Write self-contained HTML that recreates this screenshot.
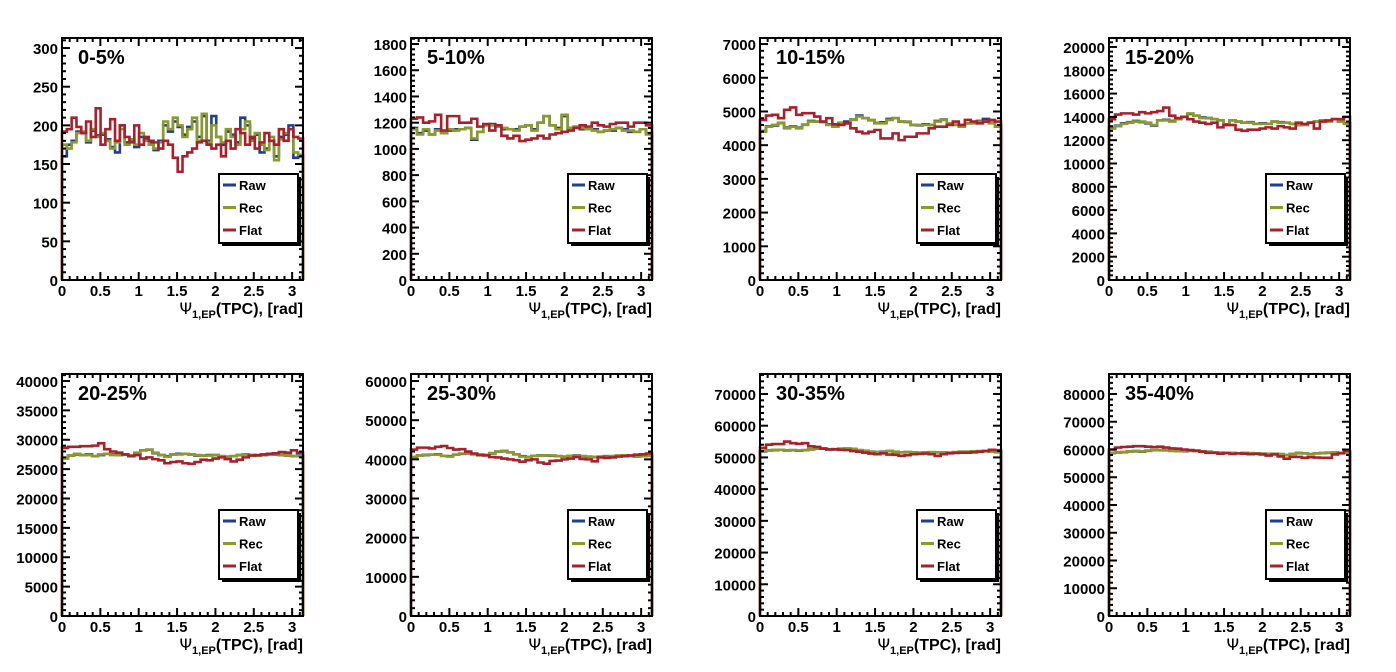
<!DOCTYPE html>
<html><head><meta charset="utf-8">
<style>
html,body{margin:0;padding:0;background:#fff;}
svg{display:block;font-family:"Liberation Sans",sans-serif;}
</style></head>
<body>
<svg id="fig" width="1396" height="672" viewBox="0 0 1396 672"></svg>
<script>
// ---- data ----
const panelTitles = ["0-5%","5-10%","10-15%","15-20%","20-25%","25-30%","30-35%","35-40%"];
const panelYMax = [313,1846,7180,20770,41190,61800,76300,87200];
const panelYMajor = [50,200,1000,2000,5000,10000,10000,10000];
const xTickLabels = ["0","0.5","1","1.5","2","2.5","3"];
const xTickValues = [0,0.5,1,1.5,2,2.5,3];
const xMax = Math.PI;

const flat1 = [192,195,210,198,190,205,185,222,175,195,208,180,200,185,178,200,175,185,180,178,170,180,175,158,140,160,165,170,178,180,175,170,175,160,180,170,195,190,175,185,170,178,190,180,175,195,180,195,185,183];
const rec1  = [175,170,178,190,192,180,195,185,190,180,170,178,195,175,182,175,190,180,175,170,178,205,195,210,200,185,195,210,180,215,178,200,185,178,195,185,175,195,205,180,190,175,168,185,155,182,190,195,165,162];
const raw1  = [160,175,180,192,190,178,193,187,188,182,172,165,200,178,180,172,185,182,178,168,180,200,192,205,198,188,198,205,185,212,180,212,185,175,192,188,178,210,200,182,188,165,170,180,160,185,188,200,158,160];

const flat2 = [1230,1240,1200,1210,1260,1140,1250,1250,1200,1200,1230,1170,1190,1140,1180,1100,1080,1100,1060,1070,1080,1100,1080,1110,1120,1130,1140,1160,1180,1170,1200,1180,1170,1190,1200,1200,1170,1200,1200,1180];
const rec2  = [1150,1110,1150,1110,1140,1120,1150,1140,1150,1160,1080,1130,1180,1180,1170,1160,1150,1140,1170,1180,1140,1200,1250,1180,1150,1260,1160,1170,1160,1150,1140,1130,1140,1150,1160,1140,1140,1130,1150,1110];
const raw2  = [1160,1120,1140,1110,1150,1120,1140,1150,1150,1160,1070,1130,1180,1190,1170,1150,1150,1150,1170,1180,1150,1200,1250,1180,1160,1250,1160,1170,1150,1150,1150,1130,1140,1140,1160,1150,1130,1130,1150,1120];

const flat3 = [4750,4880,4900,4800,5050,5120,4900,4950,4950,4850,4700,4800,4620,4600,4650,4500,4400,4350,4400,4450,4200,4200,4350,4150,4250,4250,4350,4350,4500,4550,4550,4600,4700,4600,4750,4700,4650,4700,4750,4700];
const rec3  = [4400,4550,4600,4650,4500,4550,4500,4600,4700,4700,4700,4600,4550,4650,4650,4750,4850,4800,4750,4650,4650,4750,4800,4700,4700,4600,4600,4600,4600,4700,4750,4650,4600,4550,4650,4650,4700,4700,4650,4550];
const raw3  = [4420,4560,4580,4660,4520,4560,4520,4610,4720,4700,4690,4620,4560,4660,4700,4760,4880,4800,4740,4660,4680,4780,4800,4700,4690,4600,4590,4620,4600,4720,4760,4640,4610,4570,4650,4660,4720,4780,4660,4560];

const flat4 = [13800,14200,14300,14300,14200,14400,14300,14400,14500,14800,14100,13900,14000,13800,13600,13500,13400,13500,13100,13300,13300,12900,12800,12900,12900,13000,13100,13000,13200,13100,13000,13500,13400,13500,13000,13600,13700,13800,13800,14000];
const rec4  = [13000,13200,13400,13500,13600,13600,13500,13300,13700,13700,13600,13800,14000,14300,14100,13900,13900,13800,13700,13300,13700,13600,13500,13500,13400,13400,13400,13600,13500,13500,13400,13300,13300,13500,13600,13700,13600,13800,13600,13400];
const raw4  = [13050,13250,13450,13550,13650,13550,13450,13250,13700,13750,13650,13800,14000,14250,14100,13950,13900,13800,13700,13350,13700,13600,13500,13550,13400,13450,13400,13600,13550,13500,13400,13300,13350,13500,13600,13700,13650,13800,13600,13450];

const flat5 = [28600,28800,28800,28900,28900,29000,29400,28400,28000,27800,27500,27200,27400,26800,27000,26700,26500,26000,26200,26300,26000,25900,26200,26600,26500,26800,27000,26700,26300,26600,27000,27300,27400,27500,27600,27700,27900,27800,28200,27800];
const rec5  = [26800,27300,27600,27400,27400,27200,27500,27600,27400,27400,27500,27300,27800,28200,28300,27800,27400,27100,27500,27500,27600,27500,27400,27300,27300,27400,27200,27000,27200,27400,27500,27400,27300,27400,27500,27600,27400,27300,27200,27200];
const raw5  = [26900,27300,27500,27400,27500,27200,27400,27600,27500,27400,27500,27300,27700,28200,28300,27700,27400,27200,27500,27600,27600,27500,27300,27300,27400,27400,27200,27100,27200,27400,27500,27400,27300,27400,27500,27500,27400,27300,27200,27300];

const flat6 = [42500,43000,43000,42800,43200,43400,42900,42500,42600,42000,41500,41200,41000,40600,40500,40200,40000,39800,39400,39800,40000,39200,38900,39600,39700,40000,40200,40600,40100,40000,39500,40500,40400,40500,40700,40800,41000,41200,41300,41500];
const rec6  = [40500,41000,41200,41200,41200,40900,40700,41200,41500,41500,41300,41000,41100,41600,42000,42200,41800,41300,40700,40600,40900,40900,41000,41000,40800,40700,40900,40900,40800,40700,40600,40700,40700,40800,41000,41000,40800,40700,40800,40900];
const raw6  = [40600,41000,41100,41200,41300,40900,40800,41200,41400,41500,41300,41100,41100,41500,42000,42100,41800,41300,40800,40600,40900,41000,41000,40900,40800,40700,40900,41000,40800,40700,40600,40700,40800,40800,40900,41000,40800,40700,40800,40900];

const flat7 = [53000,54000,54200,54200,55000,54500,54300,54500,53500,53300,52800,52500,52600,52400,52300,52000,51800,51500,51200,51000,51300,50900,50800,50500,50700,51000,51100,51200,51000,50500,51000,51300,51400,51500,51500,51600,51800,52000,52400,52300];
const rec7  = [52000,52200,52400,52400,52100,52300,52200,52300,52600,52900,52800,52600,52500,52600,52800,52700,52300,52000,51800,51700,51700,52000,51800,51600,51700,51600,51500,51600,51700,51600,51600,51500,51700,51800,51800,51900,52000,52000,51800,51600];
const raw7  = [51900,52200,52300,52400,52200,52300,52100,52300,52500,52800,52800,52500,52500,52700,52800,52600,52300,52100,51800,51700,51800,52000,51700,51600,51700,51500,51500,51600,51600,51600,51600,51500,51600,51800,51800,51900,51900,52000,51800,51700];

const flat8 = [60000,60700,60900,61000,61200,61200,61000,60900,61000,60700,60400,60300,60000,59800,59600,59200,58800,58800,58500,58700,58400,58600,58500,58300,58400,58200,57800,58200,57500,56700,57300,57300,57000,57200,57100,57000,57000,58200,58600,59500];
const rec8  = [58800,58900,59100,59300,59500,59300,59600,59800,59900,59700,59500,59400,59500,59500,59400,59300,59100,58900,58900,58800,58800,58600,58700,58700,58600,58500,58400,58500,58300,57900,58400,58800,58600,58200,58600,58700,58900,59000,58800,58900];
const raw8  = [58700,58900,59000,59300,59400,59200,59500,59800,59800,59700,59500,59400,59400,59500,59400,59300,59200,58900,58800,58800,58700,58600,58700,58600,58600,58500,58400,58400,58300,58000,58400,58700,58600,58300,58600,58700,58800,59000,58800,58900];

const rawSeries  = [raw1,raw2,raw3,raw4,raw5,raw6,raw7,raw8];
const recSeries  = [rec1,rec2,rec3,rec4,rec5,rec6,rec7,rec8];
const flatSeries = [flat1,flat2,flat3,flat4,flat5,flat6,flat7,flat8];
const legendLabels = ["Raw","Rec","Flat"];

// ---- layout ----
const NS = "http://www.w3.org/2000/svg";
const svg = document.getElementById("fig");
const colors = ["#213f8c","#8c9a2c","#a8202c"];
const lefts = [62,411,760,1109];
const tops = [38,374];
const W = 241, H = 242;

function mk(tag, attrs, parent){
  const e = document.createElementNS(NS, tag);
  for (const k in attrs) e.setAttribute(k, attrs[k]);
  (parent||svg).appendChild(e);
  return e;
}

for (let p = 0; p < 8; p++) {
  const L = lefts[p % 4], T = tops[Math.floor(p / 4)];
  const B = T + H, R = L + W;
  const ymax = panelYMax[p];
  const sx = v => L + v / xMax * W;
  const sy = v => B - v / ymax * H;
  const g = mk("g", {});
  
  

  const series = [rawSeries[p], recSeries[p], flatSeries[p]];
  series.forEach((vals, si) => {
    const n = vals.length;
    let d = "M" + sx(0) + " " + B;
    for (let i = 0; i < n; i++) {
      const x0 = sx(i * xMax / n), x1 = sx((i + 1) * xMax / n);
      d += " L" + x0.toFixed(2) + " " + sy(vals[i]).toFixed(2) + " L" + x1.toFixed(2) + " " + sy(vals[i]).toFixed(2);
    }
    d += " L" + sx(xMax) + " " + B;
    const path = mk("path", {d: d, fill: "none", stroke: colors[si], "stroke-width": 2.6, "stroke-linejoin": "miter"}, g);
    
    
  });

  const frame = mk("rect", {x: L, y: T, width: W, height: H, fill: "none", stroke: "#000", "stroke-width": 2}, g);
  
  

  const maj = panelYMajor[p], minr = maj / 5;
  for (let k = 0; k * minr <= ymax + 1e-9; k++) {
    const v = k * minr, y = sy(v);
    const isMaj = k % 5 === 0;
    const len = isMaj ? 8 : 4;
    mk("line", {x1: L, x2: L + len, y1: y, y2: y, stroke: "#000", "stroke-width": 2}, g);
    mk("line", {x1: R, x2: R - len, y1: y, y2: y, stroke: "#000", "stroke-width": 2}, g);
    if (isMaj) {
      const t = mk("text", {x: L - 4, y: y + 6, "text-anchor": "end", "font-size": 15, "font-weight": "bold"}, g);
      t.textContent = String(v);
      
      
    }
  }
  for (let k = 0; k * 0.1 <= xMax; k++) {
    const x = sx(k * 0.1);
    const isMaj = k % 5 === 0;
    const len = isMaj ? 8 : 4;
    mk("line", {x1: x, x2: x, y1: B, y2: B - len, stroke: "#000", "stroke-width": 2}, g);
    mk("line", {x1: x, x2: x, y1: T, y2: T + len, stroke: "#000", "stroke-width": 2}, g);
  }
  xTickValues.forEach((v, i) => {
    const t = mk("text", {x: sx(v), y: B + 16, "text-anchor": "middle", "font-size": 15, "font-weight": "bold"}, g);
    t.textContent = xTickLabels[i];
    
    
  });

  const xt = mk("text", {x: R, y: B + 34, "text-anchor": "end", "font-size": 16, "font-weight": "bold"}, g);
  
  
  xt.innerHTML = '<tspan font-weight="normal" font-family="DejaVu Sans, sans-serif">Ψ</tspan><tspan font-size="11" dy="4">1,EP</tspan><tspan dy="-4">(TPC), [rad]</tspan>';

  const tt = mk("text", {x: L + 16, y: T + 26, "font-size": 20, "font-weight": "bold"}, g);
  tt.textContent = panelTitles[p];
  
  

  const lx = L + 157, ly = T + 136;
  const lg = mk("g", {}, g);
  
  
  mk("rect", {x: lx + 3, y: ly + 3, width: 79, height: 69, fill: "#000"}, lg);
  mk("rect", {x: lx, y: ly, width: 79, height: 69, fill: "#fff", stroke: "#000", "stroke-width": 2}, lg);
  legendLabels.forEach((lab, i) => {
    const yy = ly + 11 + i * 22.5;
    const e = mk("g", {}, lg);
    
    
    mk("line", {x1: lx + 4, x2: lx + 17, y1: yy, y2: yy, stroke: colors[i], "stroke-width": 3}, e);
    const t = mk("text", {x: lx + 20, y: yy + 5, "font-size": 13, "font-weight": "bold"}, e);
    t.textContent = lab;
  });
}
</script>
</body></html>
